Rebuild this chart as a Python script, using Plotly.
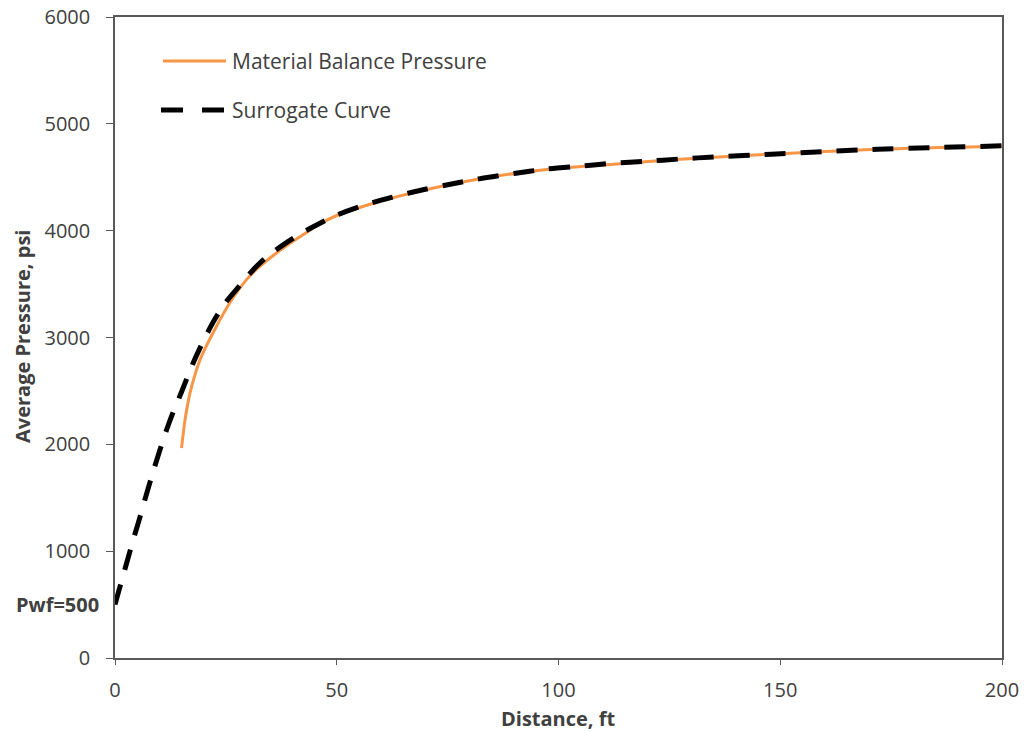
import plotly.graph_objects as go

# Data
surrogate_dist = [0, 1, 2.5, 4, 5.5, 7, 8.5, 10, 11.5, 13, 15, 17.5, 20, 22.5, 25, 27.5,
                  30, 32.5, 35, 38, 42, 46, 50, 55, 60, 67, 75, 82, 90, 97, 105, 112,
                  120, 127, 135, 148, 160, 172, 185, 200]
surrogate_pres = [500, 650, 870, 1090, 1300, 1520, 1730, 1930, 2120, 2290, 2490, 2750,
                  2975, 3170, 3330, 3455, 3580, 3690, 3780, 3870, 3975, 4065, 4145, 4222,
                  4285, 4360, 4430, 4485, 4535, 4575, 4605, 4630, 4650, 4670, 4690, 4716,
                  4740, 4762, 4778, 4794]

mb_dist = [15.0, 15.8, 16.5, 17.3, 19.2, 22.5, 25.9, 29.7, 32.5, 35.6, 39, 42, 46, 50, 55,
           60, 67.3, 82.3, 97.3, 112.4, 127.4, 147.7, 171.7, 200]
mb_pres = [1966, 2231, 2400, 2544, 2794, 3075, 3325, 3544, 3660, 3765, 3868, 3950, 4058,
           4142, 4215, 4278, 4358, 4485, 4573, 4622, 4669, 4716, 4762, 4790]

x_ticks = [0, 50, 100, 150, 200]
y_ticks = [0, 1000, 2000, 3000, 4000, 5000, 6000]

ORANGE = "#F79646"
AXIS = "#595959"
TEXT = "#404040"
FONT = "Open Sans"

fig = go.Figure()
fig.add_trace(go.Scatter(x=mb_dist, y=mb_pres, mode="lines", name="Material Balance Pressure",
                         line=dict(color=ORANGE, width=3, shape="spline", smoothing=0.8),
                         showlegend=False))
fig.add_trace(go.Scatter(x=surrogate_dist, y=surrogate_pres, mode="lines", name="Surrogate Curve",
                         line=dict(color="black", width=5, dash="21px,15px",
                                   shape="spline", smoothing=0.8),
                         showlegend=False))

# custom legend (key lines + text), positioned in plot-area fractions
def px2paper_x(px):
    return (px - 115) / 887.0

def px2paper_y(py):
    return (658 - py) / 641.0

fig.add_shape(type="line", xref="paper", yref="paper",
              x0=px2paper_x(163), x1=px2paper_x(226), y0=px2paper_y(61), y1=px2paper_y(61),
              line=dict(color=ORANGE, width=3))
fig.add_shape(type="line", xref="paper", yref="paper",
              x0=px2paper_x(161), x1=px2paper_x(224), y0=px2paper_y(110), y1=px2paper_y(110),
              line=dict(color="black", width=5, dash="22px,19px"))
fig.add_annotation(x=px2paper_x(230), y=px2paper_y(61), xref="paper", yref="paper",
                   text="Material Balance Pressure", showarrow=False, xanchor="left",
                   yanchor="middle", font=dict(family=FONT, size=21, color=TEXT))
fig.add_annotation(x=px2paper_x(230), y=px2paper_y(110), xref="paper", yref="paper",
                   text="Surrogate Curve", showarrow=False, xanchor="left",
                   yanchor="middle", font=dict(family=FONT, size=21, color=TEXT))

fig.add_annotation(x=0, y=500, xref="x", yref="y", text="<b>Pwf=500</b>", showarrow=False,
                   xanchor="right", yanchor="middle", xshift=-14,
                   font=dict(family=FONT, size=20, color=TEXT))

# axis titles
fig.add_annotation(x=px2paper_x(558), y=px2paper_y(718), xref="paper", yref="paper",
                   text="<b>Distance, ft</b>", showarrow=False, xanchor="center",
                   yanchor="middle", font=dict(family=FONT, size=20, color=TEXT))
fig.add_annotation(x=px2paper_x(22), y=px2paper_y(337), xref="paper", yref="paper",
                   text="<b>Average Pressure, psi</b>", showarrow=False, textangle=-90,
                   xanchor="center", yanchor="middle",
                   font=dict(family=FONT, size=20, color=TEXT))

fig.update_layout(
    width=1025, height=732,
    margin=dict(l=115, r=23, t=17, b=74),
    paper_bgcolor="white", plot_bgcolor="white",
    font=dict(family=FONT, color=TEXT),
)
fig.update_xaxes(range=[0, 200], tickvals=x_ticks, ticks="outside", ticklen=5,
                 tickcolor=AXIS, showline=True, linecolor=AXIS, linewidth=1.5, mirror=True,
                 showgrid=False, zeroline=False, automargin=False, ticklabelstandoff=8,
                 tickfont=dict(family=FONT, size=20, color=TEXT))
fig.update_yaxes(range=[0, 6000], tickvals=y_ticks, ticks="outside", ticklen=7,
                 tickcolor=AXIS, showline=True, linecolor=AXIS, linewidth=1.5, mirror=True,
                 showgrid=False, zeroline=False, automargin=False, ticklabelstandoff=12,
                 tickfont=dict(family=FONT, size=20, color=TEXT))

fig.write_html("out.html")
